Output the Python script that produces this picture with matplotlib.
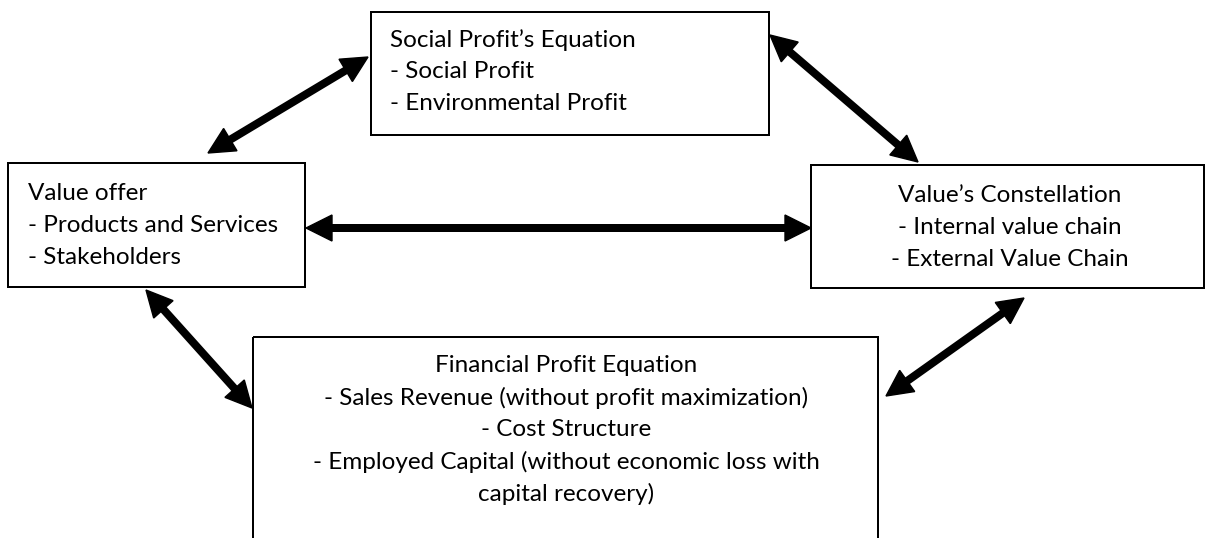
import numpy as np
import matplotlib
matplotlib.use('Agg')
import matplotlib.pyplot as plt
from matplotlib.patches import Rectangle, Polygon

# boxes: (left, top, right, bottom) in pixel coords of the 1206x538 canvas
box_names = ['social', 'offer', 'constellation', 'financial']
box_edges = [(371, 12, 769, 135),
             (8, 163, 305, 287),
             (811, 165, 1204, 288),
             (253, 337, 878, 545)]

box_lines = [
    ["Social Profit\u2019s Equation", "- Social Profit", "- Environmental Profit"],
    ["Value offer", "- Products and Services", "- Stakeholders"],
    ["Value\u2019s Constellation", "- Internal value chain", "- External Value Chain"],
    ["Financial Profit Equation", "- Sales Revenue (without profit maximization)",
     "- Cost Structure", "- Employed Capital (without economic loss with",
     "capital recovery)"],
]
# text anchor (x, first line y) and alignment
text_x = [390, 28, 1010, 566]
text_y0 = [40, 194, 195, 366]
text_align = ['left', 'left', 'center', 'center']
line_step = 32

# double headed arrows, end points
arrow_ends = [((208, 153), (368, 57)),
              ((770, 35), (918, 162)),
              ((306, 228), (811, 228)),
              ((146, 290), (252, 408)),
              ((886, 396), (1024, 298))]

W, H = 1206, 538
fig = plt.figure(figsize=(W / 100, H / 100), dpi=100)
ax = fig.add_axes([0, 0, 1, 1])
ax.set_xlim(0, W)
ax.set_ylim(H, 0)
ax.axis('off')

px = 72 / 100  # pixel -> points

for (l, t, r, b) in box_edges:
    ax.add_patch(Rectangle((l, t), r - l, b - t, fill=False, edgecolor='black',
                           lw=2 * px, zorder=2))

for lines, x, y0, ha in zip(box_lines, text_x, text_y0, text_align):
    for i, s in enumerate(lines):
        ax.text(x, y0 + i * line_step, s, ha=ha, va='center', fontsize=17.5,
                family='Lato', color='black')


def double_arrow(p, q, head_len=26, head_w=26, lw=8):
    p = np.array(p, float)
    q = np.array(q, float)
    u = (q - p) / np.linalg.norm(q - p)
    n = np.array([-u[1], u[0]])
    a = p + u * head_len * 0.9
    b = q - u * head_len * 0.9
    ax.plot([a[0], b[0]], [a[1], b[1]], color='black', lw=lw * px,
            solid_capstyle='butt', zorder=3)
    for tip, d in ((p, u), (q, -u)):
        base = tip + d * head_len
        tri = [tip, base + n * head_w / 2, base - n * head_w / 2]
        ax.add_patch(Polygon(tri, closed=True, color='black', zorder=3))


for p, q in arrow_ends:
    double_arrow(p, q)

fig.savefig('out.png', dpi=100)
